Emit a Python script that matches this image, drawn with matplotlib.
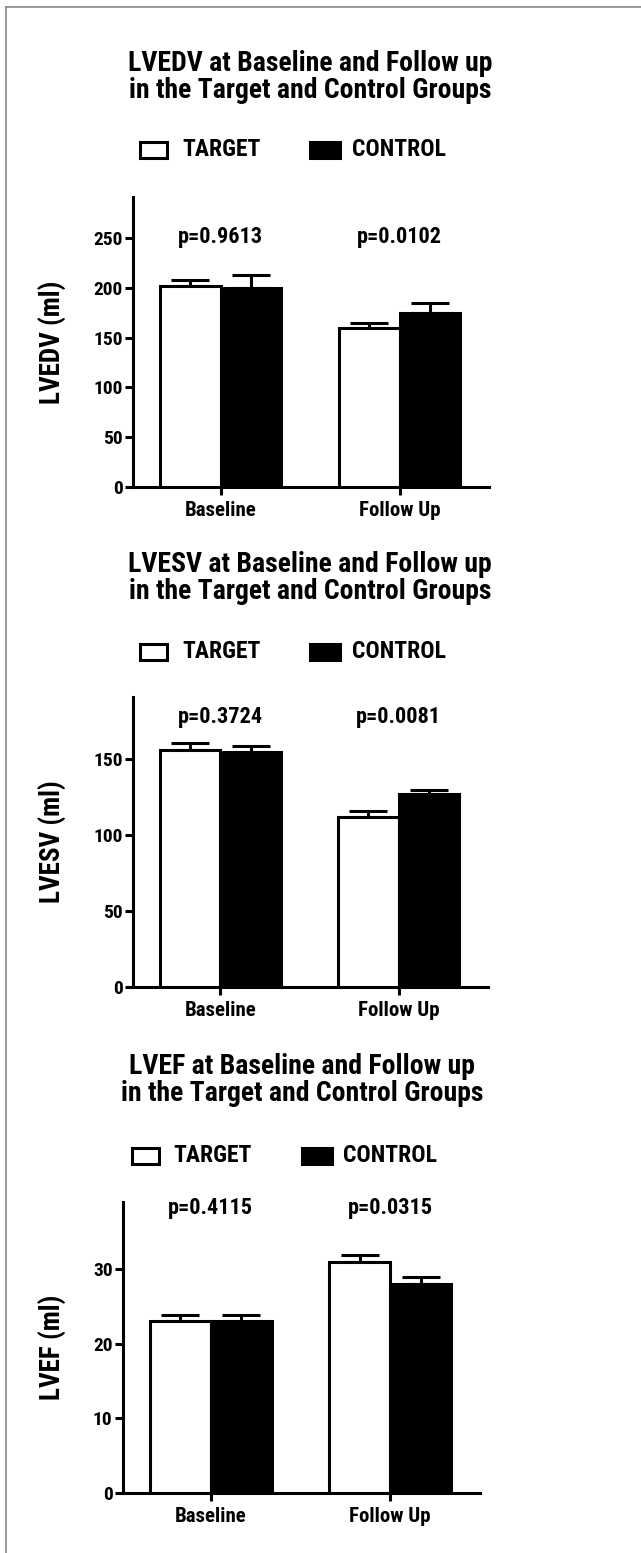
import numpy as np
import matplotlib
matplotlib.use('Agg')
import matplotlib.pyplot as plt
from matplotlib.patches import Rectangle
from matplotlib.lines import Line2D

# groups / series
groups = ['Baseline', 'Follow Up']
series = ['TARGET', 'CONTROL']

# LVEDV (ml)
lvedv_target = [202, 160]
lvedv_target_err = [6, 5]
lvedv_control = [200, 175]
lvedv_control_err = [13, 10]
lvedv_p = ['p=0.9613', 'p=0.0102']

# LVESV (ml)
lvesv_target = [156, 112]
lvesv_target_err = [4.5, 4]
lvesv_control = [155, 127]
lvesv_control_err = [3.5, 3]
lvesv_p = ['p=0.3724', 'p=0.0081']

# LVEF
lvef_target = [23, 31]
lvef_target_err = [0.8, 0.9]
lvef_control = [23, 28]
lvef_control_err = [0.9, 0.9]
lvef_p = ['p=0.4115', 'p=0.0315']

# narrow bold sans, whichever is there first
plt.rcParams['font.family'] = ['Roboto Condensed', 'Liberation Sans Narrow', 'Roboto']
plt.rcParams['font.weight'] = 'bold'
plt.rcParams['axes.labelweight'] = 'bold'

W, H = 641, 1553
fig = plt.figure(figsize=(W / 100, H / 100), dpi=100)


def px_rect(left, right, top, bottom):
    return [left / W, 1 - bottom / H, (right - left) / W, (bottom - top) / H]


def fx(x):
    return x / W


def fy(y):
    return 1 - y / H


panels = [
    dict(name='LVEDV', target=lvedv_target, terr=lvedv_target_err,
         control=lvedv_control, cerr=lvedv_control_err, p=lvedv_p,
         rect=(133, 489, 197, 487), ymax=291, yticks=[0, 50, 100, 150, 200, 250],
         p_y=251, ylabel='LVEDV (ml)', ylab_x=-0.185,
         title_xy=(310, 77), leg=(140, 182, 310, 352, 150)),
    dict(name='LVESV', target=lvesv_target, terr=lvesv_target_err,
         control=lvesv_control, cerr=lvesv_control_err, p=lvesv_p,
         rect=(133, 488, 697, 987), ymax=191, yticks=[0, 50, 100, 150],
         p_y=178, ylabel='LVESV (ml)', ylab_x=-0.185,
         title_xy=(310, 578), leg=(140, 182, 310, 352, 652)),
    dict(name='LVEF', target=lvef_target, terr=lvef_target_err,
         control=lvef_control, cerr=lvef_control_err, p=lvef_p,
         rect=(123, 480, 1202, 1493), ymax=39, yticks=[0, 10, 20, 30],
         p_y=38.2, ylabel='LVEF (ml)', ylab_x=-0.157,
         title_xy=(302, 1080), leg=(132, 173, 302, 343, 1156)),
]

x = np.arange(len(groups))
w = 0.34
lw = 2.2

for pn in panels:
    ax = fig.add_axes(px_rect(*pn['rect']))
    ax.bar(x - w / 2, pn['target'], w, facecolor='white', edgecolor='black', linewidth=lw, zorder=3)
    ax.bar(x + w / 2, pn['control'], w, facecolor='black', edgecolor='black', linewidth=lw, zorder=3)
    zeros = np.zeros(len(groups))
    ax.errorbar(x - w / 2, pn['target'], yerr=[zeros, pn['terr']], fmt='none', ecolor='black',
                elinewidth=lw, capsize=14, capthick=lw, zorder=2)
    ax.errorbar(x + w / 2, pn['control'], yerr=[zeros, pn['cerr']], fmt='none', ecolor='black',
                elinewidth=lw, capsize=14, capthick=lw, zorder=2)

    ax.set_xlim(-0.49, 1.5)
    ax.set_ylim(0, pn['ymax'])
    ax.set_yticks(pn['yticks'])
    ax.set_xticks(x)
    ax.set_xticklabels(groups, fontsize=15)
    ax.tick_params(axis='y', labelsize=14, length=6, width=lw, pad=1.5)
    ax.tick_params(axis='x', length=6, width=lw, pad=4)
    for s in ['top', 'right']:
        ax.spines[s].set_visible(False)
    for s in ['left', 'bottom']:
        ax.spines[s].set_linewidth(lw)

    ax.set_ylabel(pn['ylabel'], fontsize=19.5)
    ax.yaxis.set_label_coords(pn['ylab_x'], 0.5)

    for i, txt in enumerate(pn['p']):
        ax.text(x[i], pn['p_y'], txt, ha='center', va='center', fontsize=16, clip_on=False)

    tx, ty = pn['title_xy']
    fig.text(fx(tx), fy(ty), f"{pn['name']} at Baseline and Follow up\nin the Target and Control Groups",
             ha='center', va='center', fontsize=20, linespacing=1.0)

    # legend
    wx, tx1, bx, tx2, ly = pn['leg']
    fig.add_artist(Rectangle((fx(wx), fy(ly + 8)), 27 / W, 16 / H, transform=fig.transFigure,
                             facecolor='white', edgecolor='black', linewidth=lw))
    fig.add_artist(Rectangle((fx(bx), fy(ly + 8)), 30 / W, 16 / H, transform=fig.transFigure,
                             facecolor='black', edgecolor='black', linewidth=lw))
    fig.text(fx(tx1), fy(ly), series[0], ha='left', va='center', fontsize=17)
    fig.text(fx(tx2), fy(ly), series[1], ha='left', va='center', fontsize=17)

# grey frame on left and top
fig.add_artist(Line2D([fx(6), fx(6)], [0, fy(7)], color='#888888', linewidth=1.2, transform=fig.transFigure))
fig.add_artist(Line2D([fx(6), 1], [fy(7), fy(7)], color='#888888', linewidth=1.2, transform=fig.transFigure))

fig.savefig('out.png', dpi=100)
